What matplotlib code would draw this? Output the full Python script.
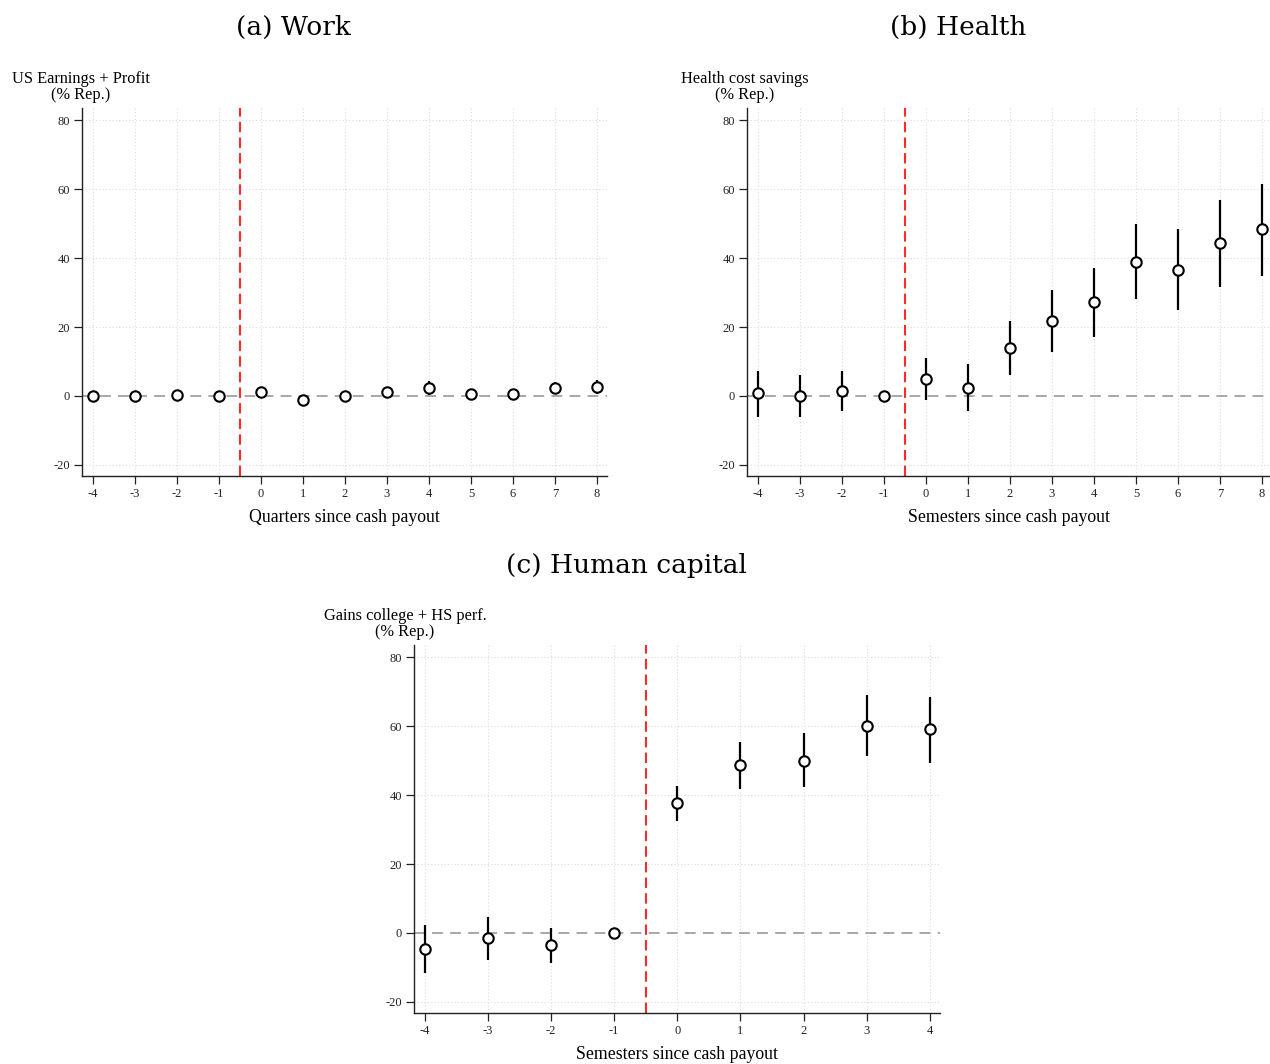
import matplotlib
matplotlib.use("Agg")
import matplotlib.pyplot as plt

# Event-time coefficients with 95% confidence bounds (% of representative value)
work_t = [-4, -3, -2, -1, 0, 1, 2, 3, 4, 5, 6, 7, 8]
work_est = [0.0, 0.0, 0.2, 0.0, 1.2, -1.3, 0.1, 1.3, 2.4, 0.6, 0.5, 2.3, 2.6]
work_lo = [-0.8, -0.8, -0.6, 0.0, 0.3, -2.2, -0.7, 0.4, 0.4, -0.6, -0.8, 0.6, 0.6]
work_hi = [0.8, 0.8, 1.0, 0.0, 2.1, -0.4, 0.9, 2.2, 4.3, 1.8, 1.8, 4.0, 4.6]

health_t = [-4, -3, -2, -1, 0, 1, 2, 3, 4, 5, 6, 7, 8]
health_est = [0.8, 0.0, 1.4, 0.0, 4.9, 2.4, 13.9, 21.6, 27.2, 38.9, 36.6, 44.3, 48.3]
health_lo = [-6.0, -6.2, -4.4, 0.0, -1.2, -4.3, 6.0, 12.7, 17.1, 28.1, 25.0, 31.7, 34.9]
health_hi = [7.3, 6.2, 7.3, 0.0, 10.9, 9.4, 21.8, 30.6, 37.1, 49.8, 48.3, 56.7, 61.6]

human_t = [-4, -3, -2, -1, 0, 1, 2, 3, 4]
human_est = [-4.7, -1.5, -3.5, 0.0, 37.6, 48.6, 50.0, 60.0, 59.0]
human_lo = [-11.6, -7.7, -8.7, 0.0, 32.4, 41.8, 42.2, 51.2, 49.2]
human_hi = [2.2, 4.6, 1.5, 0.0, 42.7, 55.3, 58.0, 68.9, 68.5]

y_ticks = [-20, 0, 20, 40, 60, 80]

W, H = 1270, 1064
SERIF = ["Liberation Serif", "DejaVu Serif"]
plt.rcParams["font.family"] = SERIF

fig = plt.figure(figsize=(W / 100, H / 100), dpi=100)


def px_axes(x0, y0, x1, y1):
    return fig.add_axes([x0 / W, 1 - y1 / H, (x1 - x0) / W, (y1 - y0) / H])


def event_panel(ax, t, est, lo, hi, xlim, xlabel, ylabel, ylab_xy):
    ax.set_xlim(*xlim)
    ax.set_ylim(-23.2, 83.5)
    ax.set_xticks(t)
    ax.set_xticklabels([str(v) for v in t])
    ax.set_yticks(y_ticks)
    ax.set_yticklabels([str(v) for v in y_ticks])
    for s in ("top", "right"):
        ax.spines[s].set_visible(False)
    for s in ("left", "bottom"):
        ax.spines[s].set_linewidth(1.0)
        ax.spines[s].set_color("#222222")
    ax.tick_params(axis="both", labelsize=9, length=5.5, width=0.9,
                   colors="#222222", pad=3)
    # light dotted grid
    for v in t:
        ax.axvline(v, color="#dcdcdc", lw=0.8, ls=(0, (1, 2)), zorder=0)
    for v in y_ticks:
        if v != 0:
            ax.axhline(v, color="#dcdcdc", lw=0.8, ls=(0, (1, 2)), zorder=0)
    ax.axhline(0, color="#a0a0a0", lw=1.3, ls=(0, (6, 4)), zorder=1)
    ax.axvline(-0.5, color="#ff2a2a", lw=1.5, ls=(0, (5, 2.5)), zorder=2)
    # confidence intervals and point estimates
    for x, l, h in zip(t, lo, hi):
        ax.plot([x, x], [l, h], color="black", lw=1.6, solid_capstyle="butt", zorder=3)
    ax.plot(t, est, ls="none", marker="o", ms=7.5, mfc="white", mec="black",
            mew=1.5, zorder=4)
    ax.set_xlabel(xlabel, fontsize=12.8, labelpad=6.5)
    fig.text(ylab_xy[0] / W, 1 - ylab_xy[1] / H, ylabel, ha="center", va="center",
             fontsize=11.8, linespacing=1.0)


ax_a = px_axes(82, 108, 607, 476)
event_panel(ax_a, work_t, work_est, work_lo, work_hi, (-4.26, 8.24),
            "Quarters since cash payout", "US Earnings + Profit\n(% Rep.)", (81, 87))

ax_b = px_axes(747, 108, 1272, 476)
event_panel(ax_b, health_t, health_est, health_lo, health_hi, (-4.26, 8.24),
            "Semesters since cash payout", "Health cost savings\n(% Rep.)", (745, 87))

ax_c = px_axes(414, 645, 940, 1013)
event_panel(ax_c, human_t, human_est, human_lo, human_hi, (-4.17, 4.16),
            "Semesters since cash payout", "Gains college + HS perf.\n(% Rep.)", (405, 624))

for label, cx, cy in [("(a) Work", 293, 27), ("(b) Health", 958, 27),
                      ("(c) Human capital", 626, 565)]:
    fig.text(cx / W, 1 - cy / H, label, ha="center", va="center", fontsize=19,
             family=["DejaVu Serif"])

fig.savefig("out.png", dpi=100, facecolor="white")
